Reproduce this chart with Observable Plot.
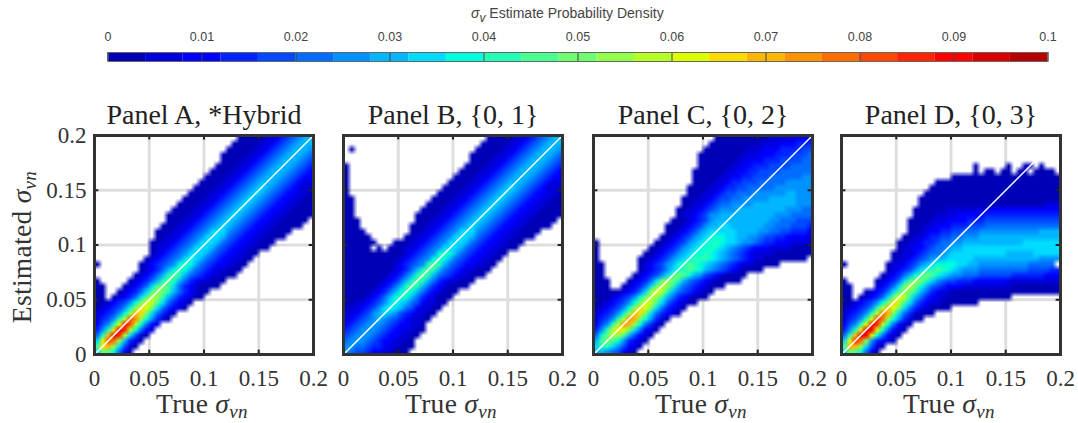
<!DOCTYPE html>
<html>
<head>
<meta charset="utf-8">
<script src="https://cdn.jsdelivr.net/npm/d3@7"></script>
<script src="https://cdn.jsdelivr.net/npm/@observablehq/plot@0.6"></script>
<style>
body{margin:0;background:#fff;width:1078px;height:423px;overflow:hidden;position:relative}
#c>*{position:absolute}
.lab{font-family:"Liberation Serif",serif;font-size:27.5px;color:#333;white-space:nowrap;letter-spacing:.3px}
.lab sub{font-size:19px;font-style:italic;line-height:0;vertical-align:-5px}
.cbt{font-family:"Liberation Sans",sans-serif;font-size:14px;color:#444;white-space:nowrap}
.cbt sub{font-size:12px;line-height:0;font-style:italic}
</style>
</head>
<body>
<div id="c"></div>
<script>
// Discrete jet colour levels of the colour bar
const jet = ["#0000B6","#0000DB","#0000FF","#0024FF","#0049FF","#006DFF","#0092FF","#00B6FF","#00DBFF","#00FFDB","#24FFB6","#49FF92","#6DFF6D","#92FF49","#B6FF24","#DBFF00","#FFDB00","#FFB600","#FF9200","#FF6D00","#FF4900","#FF2400","#FF0000","#DB0000","#B60000"];
const densityStep = 0.004;
const densityTicks = [0,0.01,0.02,0.03,0.04,0.05,0.06,0.07,0.08,0.09,0.1];
const sigmaTicks = [0,0.05,0.1,0.15,0.2];
const sigmaMax = 0.2;
const gridSize = 40;
const panelTitles = ["Panel A, *Hybrid","Panel B, {0, 1}","Panel C, {0, 2}","Panel D, {0, 3}"];
const frameLefts = [94,343,593,841];
const levelChars = "0123456789abcdefghijklmno";

// Density levels: one entry per row from the top, "startColumn|levels" segments.
const panelA = ["26|00000112345677","25|000001123456777","24|0000011234567776","23|00000112345677765","23|00001123456777654","22|000011234567776543","21|0000112345677765432","20|00001123456777654322","19|000011234567776543211","18|0000112345678765432111","17|00001123456787654322110","16|000011234567876543221100","15|0000112345678765432211000","14|00001123456787654322110000","13|000011234567876543221100000","13|00011234567876543221100000.","12|00011234567876543221100000","11|0001123456888654322110000","11|001123456888754322110000","10|00112345688875432211000","10|0112345688875432211000","10|01234568887543221100","9|01234568987543221100","0|0 8|01234569a97543221100","8|0123579a97543211000","7|012357aba7543211000","0|0 6|012357aba753211000","0|00 5|012358bcb853210000","0|00 4|012358bdca7532100","0|00 3|012358beda7532100","0|00123469cfeb853210","0|0123469dgfc853210","0|123469dhgc85310","0|1346aekid96310","0|246afmke9521","0|36agnle9521","0|5ahnle8410","0|8fkjd7310","0|bghd8410","0|8cb9520"];
const panelB = ["26|00000112345677","25|000001123456777","1|0 24|0000011234567776","23|00000112345677765","23|00001123456777654","0|0 22|000011234567776543","0|0 21|0000112345677765432","0|0 20|00001123456777654322","0|0 19|000011234567776543211","0|0 18|0000112345678765432111","0|0 17|00001123456787654322110","0|00 16|000011234567876543221100","0|00 15|0000112345678765432211000","0|00 14|00001123456787654322110000","0|00 13|000011234567876543221100000","0|000 13|00011234567876543221100000.","0|000 12|00011234567876543221100000","0|0000 12|001123456888654322110000","0|00000 11|001123456888754322110000","0|000000 9|000112345688875432211000","0|00000.0.00 10|0112345688875432211000","0|0000000000 10|01234569a97543221100","0|000000000 9|01234569a97543221100","0|00000000 8|0123456aba7543221100","0|00000000 8|012357aba7543211000","0|0000000 7|012357aba7543211000","0|000000 6|012357aba753211000","0|00000 5|012357aba753210000","0|0000 4|0123579a975321000","0|000 3|0123579a975321000","0|0011234689875421100","0|011234689875421100","0|11234678764321100","0|1234567654321100","0|234566654322110","0|345666543221100","0|45666543221100","0|5666543221100","0|6655433211000","0|654432211000"];
const panelC = ["22|000000000011111222","21|0000000001111222333","20|00000000111222333344","19|000000001112223334445","19|000000011222333444455","19|000000112233344445555","18|0000001122334444555555","18|0000011223344455555566","18|0000112334445555566666","17|00001123344555556666666","17|00011234455566666677666","16|000112344556666677777666","16|001123455666677777777666","15|0011234566677777777766655","15|0112346677777777776665555","14|00012346777777777766555444","13|000123467788777777665554443","13|001234678888877776655443332","12|0012346789998877665443322221","0|0 11|00123467899a98876654332221111","0|0 10|00123467899a987654322211110000","0|0 9|00123467899a9876543211110000000","0|0 8|0012346789aaa987654321100000000","0|00 8|01234679aba987654321100000","0|00 8|01234689aba976543210000","0|00 7|0123468bcb97643210000","0|000 6|012358cdca75432100000","0|000 5|012358ceda754321000","0|0000 4|012358dfea75432100","0|000123469ceda75321000","0|00123469cfeb8532100","0|0123469dgfc853210","0|123469dhgc853210","0|1346aeihc96310","0|246aeihd95310","0|36aegfc85210","0|59cedb74210","0|7bcb963210","0|8aa864210","0|77654210"];
const panelD = ["","","","","","24|0 30|0 33|00 36|0","24|0.00.00.00.0000","20|000000000000000000000000","17|000000000000000000000000","16|000000000000000000000000","15|000000000000000000000000000","14|00000000000000000000000000","14|00000000000000000000000111","13|000000111111112222222222222","13|000011112222233333333333333","12|0000111222233344444444444444","12|0001122233344455555555555555","12|0011223344555666666666667777","11|00112334455666777777777777777","10|001123345566777777777778888888","10|011223455677888888888888888888","9|0011234556788888888887777788888","9|0112345677888887777777777776666","0|0 8|0112346789999887766666666655555","8|01234689aba987666555555555444433","7|0123579bcb98766555444444333333222","0|0 6|012358bdca865443332222221111111111","0|00 6|12358cec97543222111111111000000000","0|00 4|012358bdca75321100000000000000000000","0|00 3|012358cfea753211000000000000","0|00123469cgeb8532110000000","0|012346aehfc853210000","0|12346aejhc8531000","0|1346afljd963100","0|246afmle95210","0|36agnmf95210","0|5ahnmf95210","0|8fljd63210","0|bhhd8410","0|8cb9520"];
const panels = [panelA,panelB,panelC,panelD];

function toDensity(rows){
  const out = [];
  for (const row of rows){
    const cols = new Array(gridSize).fill(".");
    for (const seg of row.split(" ").filter(Boolean)){
      const [start,chars] = seg.split("|");
      [...chars].forEach((ch,k)=>{ if(+start+k<gridSize) cols[+start+k]=ch; });
    }
    for (const ch of cols){
      const i = levelChars.indexOf(ch);
      out.push(i<0 ? NaN : (i+0.5)*densityStep);
    }
  }
  return out;
}

const colorScale = {type:"threshold",domain:jet.slice(1).map((_,i)=>(i+1)*densityStep),range:jet};
const root = document.getElementById("c");

// Colour bar
const bar = Plot.plot({
  width:1078,height:64,marginLeft:107.5,marginRight:30.5,marginTop:52,marginBottom:3,
  style:{background:"transparent",overflow:"visible"},
  x:{domain:[0,0.1],axis:null},y:{domain:[0,1],axis:null},color:colorScale,
  marks:[
    Plot.rect(jet,{x1:(d,i)=>i*densityStep,x2:(d,i)=>(i+1)*densityStep,y1:0,y2:1,fill:(d,i)=>(i+0.5)*densityStep}),
    Plot.ruleX(densityTicks,{y1:0,y2:1,stroke:"#444",strokeWidth:1}),
    Plot.frame({stroke:"#666",strokeWidth:1}),
    Plot.axisX(densityTicks,{anchor:"top",tickSize:0,tickPadding:12,fontSize:12.5,fill:"#444",fontFamily:"Liberation Sans",tickFormat:d=>String(d),label:null})
  ]
});
bar.style.left="0";bar.style.top="0";root.append(bar);

// Panels
panels.forEach((rows,p)=>{
  const left = frameLefts[p];
  const ml = p===0?94:30, mr=30;
  const fr = 219;
  const fig = Plot.plot({
    width:ml+fr+mr,height:423,marginLeft:ml,marginRight:mr,marginTop:135,marginBottom:69,
    style:{background:"transparent",overflow:"visible"},
    x:{domain:[0,sigmaMax],axis:null},y:{domain:[0,sigmaMax],axis:null},color:colorScale,
    marks:[
      Plot.ruleX(sigmaTicks,{stroke:"#dedede",strokeWidth:3}),
      Plot.ruleY(sigmaTicks,{stroke:"#dedede",strokeWidth:3}),
      Plot.raster(toDensity(rows),{width:gridSize,height:gridSize,x1:0,x2:sigmaMax,y1:sigmaMax,y2:0,fill:d=>d,imageRendering:"auto"}),
      Plot.line(sigmaTicks.filter((d,i,a)=>i===0||i===a.length-1),{x:d=>d,y:d=>d,stroke:"#fff",strokeWidth:1.5}),
      Plot.ruleX(sigmaTicks,{y1:0,y2:0.004,stroke:"#222",strokeWidth:2}),
      Plot.ruleX(sigmaTicks,{y1:0.196,y2:0.2,stroke:"#222",strokeWidth:2}),
      Plot.ruleY(sigmaTicks,{x1:0,x2:0.004,stroke:"#222",strokeWidth:2}),
      Plot.ruleY(sigmaTicks,{x1:0.196,x2:0.2,stroke:"#222",strokeWidth:2}),
      Plot.frame({stroke:"#333",strokeWidth:3}),
      Plot.axisX(sigmaTicks,{anchor:"bottom",tickSize:0,tickPadding:15,fontSize:23,fill:"#333",fontFamily:"Liberation Serif",tickFormat:d=>String(d),label:null}),
      ...(p===0?[Plot.axisY(sigmaTicks,{anchor:"left",tickSize:0,tickPadding:8,fontSize:23,fill:"#333",fontFamily:"Liberation Serif",tickFormat:d=>String(d),label:null})]:[]),
      Plot.text([panelTitles[p]],{frameAnchor:"top",dy:-12,lineAnchor:"bottom",fontSize:28,fill:"#222",fontFamily:"Liberation Serif",text:d=>d})
    ]
  });
  fig.style.left=(left-ml)+"px";fig.style.top="0";root.append(fig);

  const xl=document.createElement("div");
  xl.className="lab";xl.innerHTML="True <i>σ</i><sub>vn</sub>";
  xl.style.left=(left+62)+"px";xl.style.top="388px";root.append(xl);
});

const yl=document.createElement("div");
yl.className="lab";yl.innerHTML="Estimated <i>σ</i><sub>vn</sub>";
yl.style.left="22px";yl.style.top="247px";yl.style.transform="translate(-50%,-50%) rotate(-90deg)";
root.append(yl);

const ct=document.createElement("div");
ct.className="cbt";ct.innerHTML="<i>σ</i><sub>v</sub> Estimate Probability Density";
ct.style.left="471px";ct.style.top="5px";root.append(ct);
</script>
</body>
</html>
